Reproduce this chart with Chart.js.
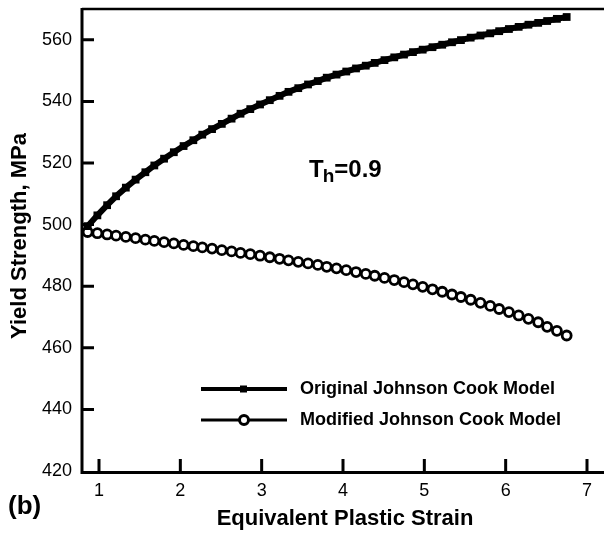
<!DOCTYPE html>
<html>
<head>
<meta charset="utf-8">
<script src="https://cdn.jsdelivr.net/npm/chart.js@4.4.1/dist/chart.umd.min.js"></script>
<style>
  body { margin: 0; background: #fff; }
  #wrap { width: 604px; height: 533px; }
</style>
</head>
<body>
<div id="wrap"><canvas id="chart" width="604" height="533"></canvas></div>
<script>
// Equivalent plastic strain (x) shared by both curves
const strain = [0.86, 0.98, 1.10, 1.21, 1.33, 1.45, 1.57, 1.68, 1.80, 1.92,
  2.04, 2.16, 2.27, 2.39, 2.51, 2.63, 2.74, 2.86, 2.98, 3.10,
  3.22, 3.33, 3.45, 3.57, 3.69, 3.80, 3.92, 4.04, 4.16, 4.28,
  4.39, 4.51, 4.63, 4.75, 4.86, 4.98, 5.10, 5.22, 5.34, 5.45,
  5.57, 5.69, 5.81, 5.92, 6.04, 6.16, 6.28, 6.40, 6.51, 6.63, 6.75];

// Yield strength, MPa
const originalJC = [499.5, 503.0, 506.3, 509.2, 512.0, 514.6, 517.0, 519.2, 521.4, 523.5,
  525.5, 527.4, 529.2, 531.0, 532.7, 534.4, 536.0, 537.5, 539.0, 540.4,
  541.8, 543.1, 544.3, 545.5, 546.6, 547.7, 548.7, 549.7, 550.7, 551.6,
  552.5, 553.4, 554.3, 555.2, 556.0, 556.8, 557.6, 558.4, 559.2, 559.9,
  560.7, 561.4, 562.1, 562.8, 563.5, 564.2, 564.9, 565.5, 566.1, 566.8, 567.4];

const modifiedJC = [497.6, 497.2, 496.8, 496.4, 496.0, 495.6, 495.1, 494.7, 494.3, 493.9,
  493.4, 493.0, 492.6, 492.2, 491.7, 491.3, 490.8, 490.4, 489.9, 489.4,
  488.9, 488.4, 487.9, 487.4, 486.9, 486.3, 485.8, 485.2, 484.6, 484.0,
  483.4, 482.7, 482.0, 481.3, 480.6, 479.8, 479.0, 478.2, 477.3, 476.5,
  475.6, 474.6, 473.6, 472.6, 471.6, 470.5, 469.4, 468.3, 466.8, 465.5, 464.0];

const seriesNames = ['Original Johnson Cook Model', 'Modified Johnson Cook Model'];
const xTicks = [1, 2, 3, 4, 5, 6, 7];
const yTicks = [420, 440, 460, 480, 500, 520, 540, 560];

const FONT = '"Liberation Sans", Arial, Helvetica, sans-serif';
Chart.defaults.font.family = FONT;
Chart.defaults.color = '#000';

function toPoints(ys) {
  return strain.map((x, i) => ({ x: x, y: ys[i] }));
}

// axes frame, inward ticks, titles, legend and annotation
const decorations = {
  id: 'decorations',
  afterDraw(chart) {
    const ctx = chart.ctx;
    const a = chart.chartArea;
    const xs = chart.scales.x, ys = chart.scales.y;
    ctx.save();
    ctx.strokeStyle = '#000';
    ctx.lineCap = 'butt';

    // top line
    ctx.lineWidth = 2.5;
    ctx.beginPath();
    ctx.moveTo(a.left, a.top);
    ctx.lineTo(a.right, a.top);
    ctx.stroke();

    // left and bottom axis
    ctx.lineWidth = 3;
    ctx.beginPath();
    ctx.moveTo(a.left, a.top - 1);
    ctx.lineTo(a.left, a.bottom + 1.5);
    ctx.lineTo(a.right, a.bottom + 1.5);
    ctx.stroke();

    // inward tick marks
    ctx.beginPath();
    xTicks.forEach(v => {
      const px = xs.getPixelForValue(v);
      ctx.moveTo(px, a.bottom);
      ctx.lineTo(px, a.bottom - 12);
    });
    yTicks.slice(1).forEach(v => {
      const py = ys.getPixelForValue(v);
      ctx.moveTo(a.left, py);
      ctx.lineTo(a.left + 12, py);
    });
    ctx.stroke();

    // axis titles
    ctx.fillStyle = '#000';
    ctx.font = 'bold 22px ' + FONT;
    ctx.textAlign = 'center';
    ctx.textBaseline = 'alphabetic';
    ctx.fillText('Equivalent Plastic Strain', 345, 525);
    ctx.save();
    ctx.translate(26, 236);
    ctx.rotate(-Math.PI / 2);
    ctx.fillText('Yield Strength, MPa', 0, 0);
    ctx.restore();

    // panel label
    ctx.textAlign = 'left';
    ctx.font = 'bold 26px ' + FONT;
    ctx.fillText('(b)', 8, 514);

    // T_h = 0.9
    ctx.font = 'bold 24px ' + FONT;
    ctx.fillText('T', 309, 177);
    const tw = ctx.measureText('T').width;
    ctx.font = 'bold 19px ' + FONT;
    ctx.fillText('h', 309 + tw - 1, 182);
    const hw = ctx.measureText('h').width;
    ctx.font = 'bold 24px ' + FONT;
    ctx.fillText('=0.9', 309 + tw + hw - 1, 177);

    // legend
    const rows = [389, 420];
    chart.data.datasets.forEach((ds, i) => {
      const y = rows[i];
      ctx.strokeStyle = '#000';
      ctx.lineWidth = i === 0 ? 4 : 3;
      ctx.beginPath();
      ctx.moveTo(201, y);
      ctx.lineTo(287, y);
      ctx.stroke();
      if (i === 0) {
        ctx.fillStyle = '#000';
        ctx.fillRect(240, y - 3.5, 7, 7);
      } else {
        ctx.fillStyle = '#fff';
        ctx.lineWidth = 3;
        ctx.beginPath();
        ctx.arc(244, y, 4.5, 0, Math.PI * 2);
        ctx.fill();
        ctx.stroke();
      }
      ctx.fillStyle = '#000';
      ctx.font = 'bold 18px ' + FONT;
      ctx.textBaseline = 'middle';
      ctx.fillText(ds.label, 300, y);
    });
    ctx.restore();
  }
};

new Chart(document.getElementById('chart'), {
  type: 'scatter',
  data: {
    datasets: [
      {
        label: seriesNames[0],
        data: toPoints(originalJC),
        showLine: true,
        borderColor: '#000',
        backgroundColor: '#000',
        borderWidth: 6,
        pointStyle: 'rect',
        pointRadius: 5.5,
        pointBorderWidth: 0,
        pointBackgroundColor: '#000'
      },
      {
        label: seriesNames[1],
        data: toPoints(modifiedJC),
        showLine: true,
        borderColor: '#000',
        backgroundColor: '#fff',
        borderWidth: 2,
        pointStyle: 'circle',
        pointRadius: 4.5,
        pointBorderWidth: 2.8,
        pointBackgroundColor: '#fff',
        pointBorderColor: '#000'
      }
    ]
  },
  options: {
    responsive: false,
    animation: false,
    events: [],
    layout: { autoPadding: false, padding: { top: 9, right: 0, left: 0, bottom: 0 } },
    plugins: {
      legend: { display: false },
      tooltip: { enabled: false }
    },
    scales: {
      x: {
        type: 'linear',
        min: 0.791,
        max: 7.209,
        afterFit(scale) { scale.height = 62; scale.paddingLeft = 0; scale.paddingRight = 0; },
        afterBuildTicks(scale) { scale.ticks = xTicks.map(v => ({ value: v })); },
        grid: { display: false, drawTicks: false },
        border: { display: false },
        ticks: { font: { size: 18 }, padding: 9, color: '#000', maxRotation: 0 }
      },
      y: {
        type: 'linear',
        min: 420,
        max: 570,
        afterFit(scale) { scale.width = 82; scale.paddingTop = 0; scale.paddingBottom = 0; },
        afterBuildTicks(scale) { scale.ticks = yTicks.map(v => ({ value: v })); },
        grid: { display: false, drawTicks: false },
        border: { display: false },
        ticks: { font: { size: 18 }, padding: 10, color: '#000' }
      }
    }
  },
  plugins: [decorations]
});
</script>
</body>
</html>
